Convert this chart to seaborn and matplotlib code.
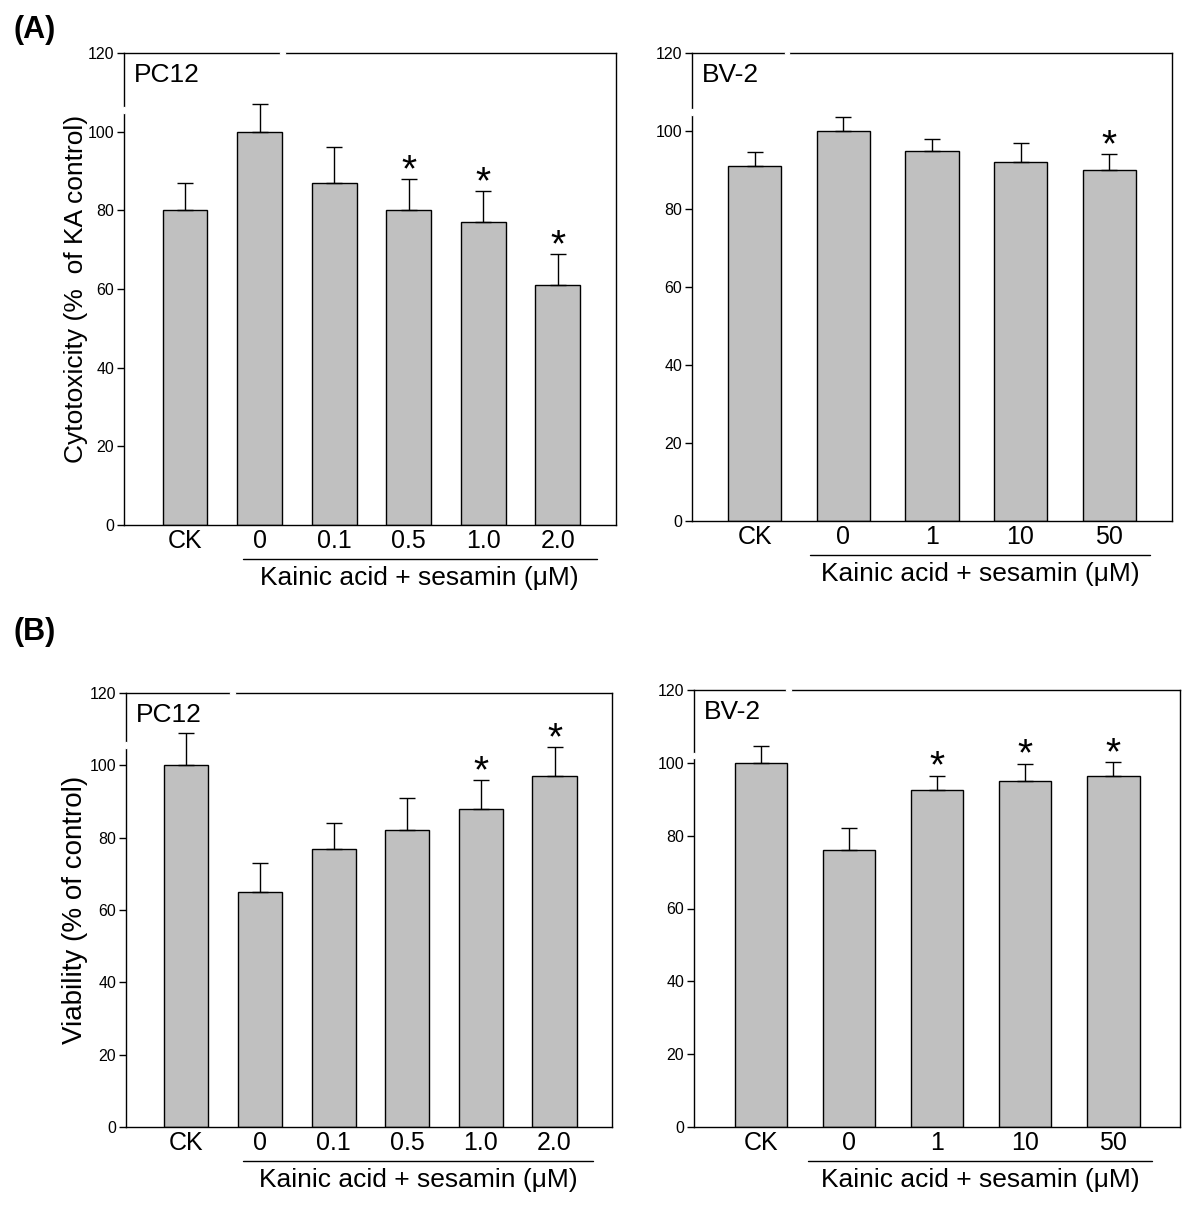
import matplotlib
matplotlib.use('Agg')
import matplotlib.pyplot as plt
import matplotlib.transforms as mtransforms
from matplotlib import font_manager
import numpy as np
import pandas as pd
import seaborn as sns

# Data
pc12_doses = ['CK', '0', '0.1', '0.5', '1.0', '2.0']
bv2_doses = ['CK', '0', '1', '10', '50']

pc12_cyto = [80, 100, 87, 80, 77, 61]
pc12_cyto_err = [7, 7, 9, 8, 8, 8]
pc12_cyto_sig = [False, False, False, True, True, True]

bv2_cyto = [91, 100, 95, 92, 90]
bv2_cyto_err = [3.5, 3.5, 3, 5, 4]
bv2_cyto_sig = [False, False, False, False, True]

pc12_viab = [100, 65, 77, 82, 88, 97]
pc12_viab_err = [9, 8, 7, 9, 8, 8]
pc12_viab_sig = [False, False, False, False, True, True]

bv2_viab = [100, 76, 92.5, 95, 96.5]
bv2_viab_err = [4.5, 6, 4, 4.8, 3.7]
bv2_viab_sig = [False, False, True, True, True]

sns.set_theme(style='white')
plt.rcParams['font.family'] = ['Liberation Sans', 'DejaVu Sans']
for key in ['text.color', 'axes.labelcolor', 'xtick.color', 'ytick.color']:
    plt.rcParams[key] = 'black'
names = {f.name for f in font_manager.fontManager.ttflist}
narrow = 'Liberation Sans Narrow' if 'Liberation Sans Narrow' in names else 'Liberation Sans'

BAR = '#c0c0c0'
W, H = 1200, 1205


def draw_panel(box, labels, values, errors, sig, cell, xlim, span, ylabel=None,
               ylabel_size=19, top_gap=None, left_gap=None):
    l, r, t, b = box
    fig = plt.gcf()
    ax = fig.add_axes([l / W, 1 - b / H, (r - l) / W, (b - t) / H])
    hpx = b - t
    df = pd.DataFrame({'dose': labels, 'value': values})
    sns.barplot(data=df, x='dose', y='value', order=labels, color=BAR,
                saturation=1, width=0.6, edgecolor='black', linewidth=1,
                errorbar=None, ax=ax)
    x = np.arange(len(labels))
    ax.errorbar(x, values, yerr=[np.zeros(len(values)), errors], fmt='none',
                ecolor='black', elinewidth=1, capsize=6, capthick=1, zorder=3)
    for xi, v, e, s in zip(x, values, errors, sig):
        if s:
            ax.text(xi, v + e - 0.6, '*', ha='center', va='baseline',
                    fontsize=28)

    ax.set_xlim(*xlim)
    ax.set_ylim(0, 120)
    ax.set_yticks(range(0, 121, 20))
    ax.set_yticklabels([str(v) for v in range(0, 121, 20)], family=narrow,
                       fontsize=11.5)
    ax.tick_params(axis='y', left=True, length=5, width=1, pad=2,
                   color='black')
    ax.tick_params(axis='x', length=0, pad=3, labelsize=18)
    ax.set_xlabel('')
    ax.set_ylabel('')
    for sp in ax.spines.values():
        sp.set_visible(True)
        sp.set_color('black')
        sp.set_linewidth(1)

    ax.text(10 / (r - l), 1 - 22 / hpx, cell, transform=ax.transAxes,
            fontsize=19, ha='left', va='center')

    # group line and caption under the dose labels
    trans = mtransforms.blended_transform_factory(ax.transData, ax.transAxes)
    ax.plot(span, [-34 / hpx] * 2, color='black', lw=1, transform=trans,
            clip_on=False)
    ax.text((span[0] + span[1]) / 2, -53 / hpx, 'Kainic acid + sesamin (μM)',
            transform=trans, ha='center', va='center', fontsize=19)

    if ylabel:
        ax.set_ylabel(ylabel, fontsize=ylabel_size)
        ax.yaxis.set_label_coords(-(l - 88) / (r - l), 0.5)

    # small breaks in the frame, as in the original scan
    if top_gap is not None:
        ax.plot([top_gap - 0.003, top_gap + 0.003], [1, 1], color='white',
                lw=2.5, transform=ax.transAxes, clip_on=False, zorder=5)
    if left_gap is not None:
        ax.plot([0, 0], [left_gap - 0.004, left_gap + 0.004], color='white',
                lw=2.5, transform=ax.transAxes, clip_on=False, zorder=5)
    return ax


fig = plt.figure(figsize=(W / 100, H / 100), dpi=100)

draw_panel((124, 616, 53, 525), pc12_doses, pc12_cyto, pc12_cyto_err,
           pc12_cyto_sig, 'PC12', (-0.82, 5.78), (0.77, 5.52),
           ylabel='Cytotoxicity (%  of KA control)', ylabel_size=19,
           top_gap=0.323, left_gap=0.879)
draw_panel((692, 1172, 53, 521), bv2_doses, bv2_cyto, bv2_cyto_err,
           bv2_cyto_sig, 'BV-2', (-0.71, 4.71), (0.62, 4.46),
           top_gap=0.198, left_gap=0.874)
draw_panel((126, 612, 693, 1127), pc12_doses, pc12_viab, pc12_viab_err,
           pc12_viab_sig, 'PC12', (-0.82, 5.78), (0.77, 5.52),
           ylabel='Viability (% of control)', ylabel_size=20,
           top_gap=0.22, left_gap=0.88)
draw_panel((694, 1180, 690, 1127), bv2_doses, bv2_viab, bv2_viab_err,
           bv2_viab_sig, 'BV-2', (-0.76, 4.76), (0.54, 4.44),
           top_gap=0.195, left_gap=0.85)

fig.text(35 / W, 1 - 30 / H, '(A)', fontsize=22, fontweight='bold',
         ha='center', va='center')
fig.text(35 / W, 1 - 632 / H, '(B)', fontsize=22, fontweight='bold',
         ha='center', va='center')

fig.savefig('out.png', dpi=100)
